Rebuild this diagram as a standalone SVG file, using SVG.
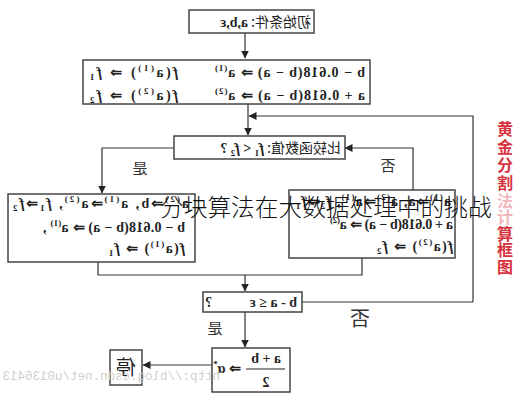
<svg xmlns="http://www.w3.org/2000/svg" width="523" height="400" viewBox="0 0 523 400">
<defs>
<marker id="ah" markerWidth="8" markerHeight="8" refX="7.5" refY="4" orient="auto" markerUnits="userSpaceOnUse"><path d="M0,0 L8,4 L0,8 Z" fill="#222"/></marker>
</defs>
<style>
.box{fill:#fff;stroke:#444;stroke-width:1.5}
.ln{fill:none;stroke:#333;stroke-width:1.2}
.m{font-family:"Liberation Serif",serif;font-weight:bold;font-size:14px;fill:#222}
.f{font-style:italic}
.s{font-size:9px}
.cn{font-family:"Noto Sans CJK SC","Noto Sans CJK JP",sans-serif;font-size:14px;fill:#222}
.lbl{font-family:"Noto Sans CJK SC",sans-serif;font-size:15px;fill:#333}
.wm{font-family:"Liberation Mono",monospace;font-size:12.5px;fill:#cfcfcf}
.title{font-family:"Noto Sans CJK SC",sans-serif;font-size:23.7px;font-weight:300;fill:#111}
.red{font-family:"Noto Sans CJK SC",sans-serif;font-size:16px;font-weight:bold;fill:#d8333d;text-anchor:middle}
</style>
<rect width="523" height="400" fill="#fff"/>
<g id="flow" transform="matrix(-1 0 0 1 523 0)">
<g id="connectors">
<path class="ln" d="M278,33 V58" marker-end="url(#ah)"/>
<path class="ln" d="M275,104 V135" marker-end="url(#ah)"/>
<path class="ln" d="M50,302 V116 H274" marker-end="url(#ah)"/>
<path class="ln" d="M221,302 H50"/>
<path class="ln" d="M349,148 H421 V193" marker-end="url(#ah)"/>
<path class="ln" d="M110,190 V148 H178" marker-end="url(#ah)"/>
<path class="ln" d="M161,258 V275 H425 V262"/>
<path class="ln" d="M278,275 V291" marker-end="url(#ah)"/>
<path class="ln" d="M278,312 V347" marker-end="url(#ah)"/>
<path class="ln" d="M311,365 H380" marker-end="url(#ah)"/>
<text class="lbl" x="383" y="174" text-anchor="middle">是</text>
<text class="lbl" x="135" y="171" text-anchor="middle">否</text>
<text class="lbl" x="308" y="334" text-anchor="middle">是</text>
<text class="lbl" x="163" y="326" text-anchor="middle" style="font-size:20px">否</text>
</g>
<g id="start">
<rect class="box" x="209" y="10" width="125" height="23"/>
<text class="cn" x="212" y="27">初始条件: <tspan class="m">a,b,ε</tspan></text>
</g>
<g id="init">
<rect class="box" x="153" y="60" width="287" height="44"/>
<text class="m" x="158" y="77" textLength="150" lengthAdjust="spacing">b − 0.618(b − a) ⇒ a<tspan class="s" dy="-6">(1)</tspan></text>
<text class="m" x="345" y="77" textLength="88" lengthAdjust="spacing"><tspan class="f">f</tspan>(a<tspan class="s" dy="-6">(1)</tspan><tspan dy="6">) ⇒ </tspan><tspan class="f">f</tspan><tspan class="s" dy="3">1</tspan></text>
<text class="m" x="158" y="100" textLength="150" lengthAdjust="spacing">a + 0.618(b − a) ⇒ a<tspan class="s" dy="-6">(2)</tspan></text>
<text class="m" x="345" y="100" textLength="88" lengthAdjust="spacing"><tspan class="f">f</tspan>(a<tspan class="s" dy="-6">(2)</tspan><tspan dy="6">) ⇒ </tspan><tspan class="f">f</tspan><tspan class="s" dy="3">2</tspan></text>
</g>
<g id="compare">
<rect class="box" x="178" y="136" width="171" height="23"/>
<text class="cn" x="182" y="153">比较函数值: <tspan class="m f">f</tspan><tspan class="m s" dy="3">1</tspan><tspan class="m" dy="-3"> &lt; </tspan><tspan class="m f">f</tspan><tspan class="m s" dy="3">2</tspan><tspan class="m" dy="-3">     ?</tspan></text>
</g>
<g id="yes-branch">
<rect class="box" x="328" y="194" width="187" height="68"/>
<text class="m" x="334" y="208" textLength="176" lengthAdjust="spacing">a<tspan class="s" dy="-6">(2)</tspan><tspan dy="6">⇒b, a</tspan><tspan class="s" dy="-6">(1)</tspan><tspan dy="6">⇒a</tspan><tspan class="s" dy="-6">(2)</tspan><tspan dy="6">, </tspan><tspan class="f">f</tspan><tspan class="s" dy="3">1</tspan><tspan dy="-3">⇒</tspan><tspan class="f">f</tspan><tspan class="s" dy="3">2</tspan></text>
<text class="m" x="338" y="232" textLength="142" lengthAdjust="spacing">b − 0.618(b − a) ⇒ a<tspan class="s" dy="-6">(1)</tspan><tspan dy="6"> ,</tspan></text>
<text class="m" x="338" y="253" textLength="76" lengthAdjust="spacing"><tspan class="f">f</tspan>(a<tspan class="s" dy="-6">(1)</tspan><tspan dy="6">) ⇒ </tspan><tspan class="f">f</tspan><tspan class="s" dy="3">1</tspan></text>
</g>
<g id="no-branch">
<rect class="box" x="68" y="190" width="166" height="68"/>
<text class="m" x="72" y="206" textLength="155" lengthAdjust="spacing">a<tspan class="s" dy="-6">(1)</tspan><tspan dy="6">⇒a, a</tspan><tspan class="s" dy="-6">(2)</tspan><tspan dy="6">⇒a</tspan><tspan class="s" dy="-6">(1)</tspan><tspan dy="6">, </tspan><tspan class="f">f</tspan><tspan class="s" dy="3">2</tspan><tspan dy="-3">⇒</tspan><tspan class="f">f</tspan><tspan class="s" dy="3">1</tspan></text>
<text class="m" x="70" y="229" textLength="123" lengthAdjust="spacing">a + 0.618(b − a) ⇒ a<tspan class="s" dy="-6">(2)</tspan></text>
<text class="m" x="70" y="251" textLength="76" lengthAdjust="spacing"><tspan class="f">f</tspan>(a<tspan class="s" dy="-6">(2)</tspan><tspan dy="6">) ⇒ </tspan><tspan class="f">f</tspan><tspan class="s" dy="3">2</tspan></text>
</g>
<g id="check">
<rect class="box" x="221" y="292" width="99" height="20"/>
<text class="m" x="226" y="307">b - a ≤ ε</text>
<text class="m" x="311" y="307">?</text>
</g>
<g id="result">
<rect class="box" x="233" y="348" width="78" height="44"/>
<text class="m" x="257" y="363" text-anchor="middle">a + b</text>
<line x1="238" y1="369" x2="277" y2="369" stroke="#222" stroke-width="1.2"/>
<text class="m" x="257" y="387" text-anchor="middle">2</text>
<text class="m" x="282" y="373">⇒ α<tspan class="s" dy="-6">*</tspan></text>
</g>
<g id="stop">
<rect class="box" x="381" y="350" width="32" height="35"/>
<text class="cn" x="397" y="375" text-anchor="middle" style="font-size:20px">停</text>
</g>
<text class="wm" x="303" y="380">http://blog.csdn.net/u0136413</text>
</g>
<text class="title" x="160" y="216">分块算法在大数据处理中的挑战</text>
<g id="side-label">
<text class="red" x="505" y="135">黄</text>
<text class="red" x="505" y="153">金</text>
<text class="red" x="505" y="171">分</text>
<text class="red" x="505" y="189">割</text>
<text class="red" x="505" y="207" style="opacity:0.35">法</text>
<text class="red" x="505" y="223" style="opacity:0.35">计</text>
<text class="red" x="505" y="240">算</text>
<text class="red" x="505" y="256">框</text>
<text class="red" x="505" y="273">图</text>
</g>
</svg>
